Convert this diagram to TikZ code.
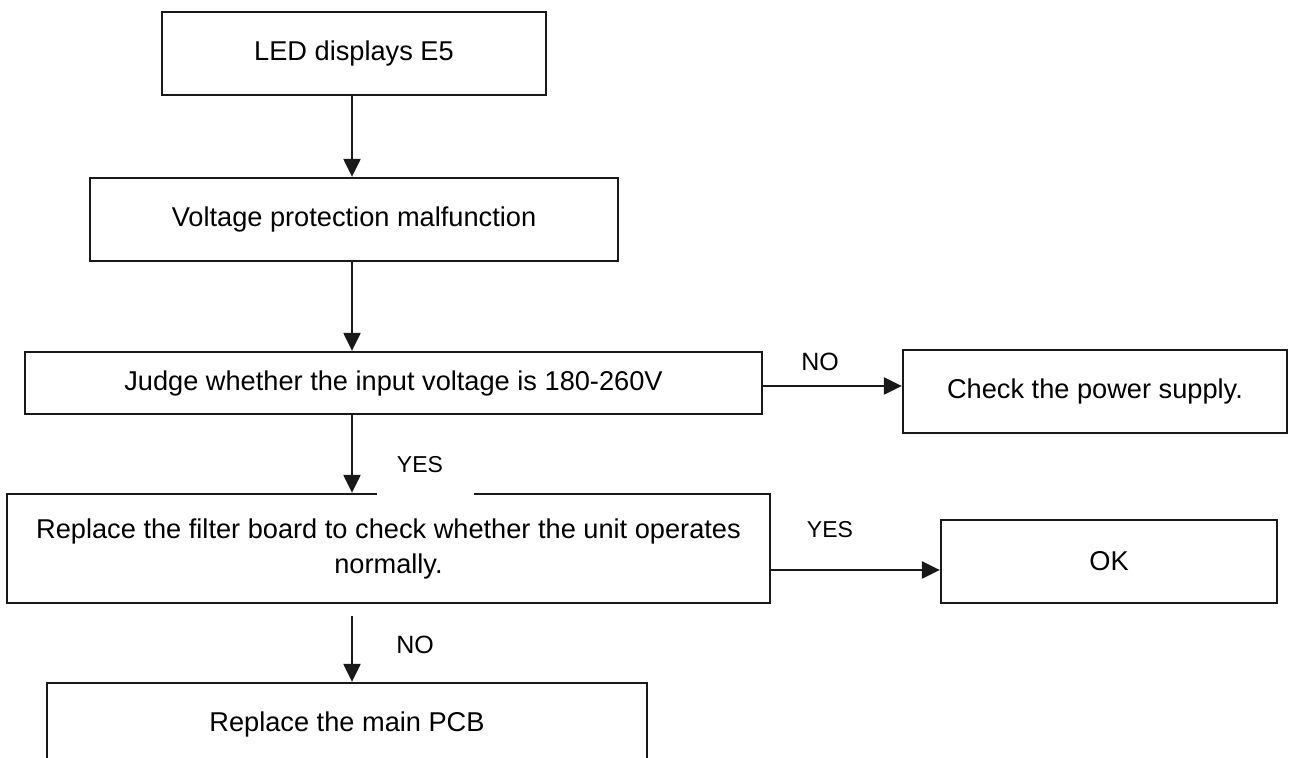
\documentclass[tikz,border=0pt]{standalone}
\usepackage{fontspec}
\setmainfont{Liberation Sans}
\usepackage{tikz}
\usetikzlibrary{arrows.meta,positioning,calc}
\tikzset{
	faultbox/.style={rectangle, draw=black!90, line width=1.15pt, fill=white,
		align=center, font=\fontsize{13.6}{17.5}\selectfont, inner sep=2pt},
	faultarr/.style={-{Triangle[length=9pt,width=8.5pt]}, line width=1.15pt, draw=black!90},
	faultlbl/.style={font=\fontsize{12.5}{14}\selectfont, inner sep=1pt}
}
\begin{document}
\begin{tikzpicture}[x=0.5pt,y=-0.5pt]
	\useasboundingbox (0,0) rectangle (1291,758);
	\clip (0,0) rectangle (1291,758);
	\node[faultbox, minimum width=192pt, minimum height=41.5pt] (e5) at (354,53.5) {LED displays E5};
	\node[faultbox, minimum width=264pt, minimum height=41.5pt] (volt) at (354,219.5) {Voltage protection malfunction};
	\node[faultbox, minimum width=368.5pt, minimum height=31pt] (judge) at (393.5,383) {Judge whether the input voltage is 180-260V};
	\node[faultbox, minimum width=192pt, minimum height=41.5pt] (power) at (1095,391.5) {Check the power supply.};
	\node[faultbox, minimum width=381.5pt, minimum height=54.5pt] (filter) at (388.5,548.5) {Replace the filter board to check whether the unit operates\\normally.};
	\node[faultbox, minimum width=168pt, minimum height=41.5pt] (ok) at (1109,561.5) {OK};
	\node[faultbox, minimum width=300pt, minimum height=41.5pt] (pcb) at (347,724.5) {Replace the main PCB};
	% white gap in the top edge under YES
	\fill[white] (377,490) rectangle (474,498);
	\node[faultlbl] (no1) at (820,362) {NO};
	\node[faultlbl, font=\fontsize{11.5}{14}\selectfont] (yes1) at (420,465) {YES};
	\node[faultlbl, font=\fontsize{11.5}{14}\selectfont] (yes2) at (830,530) {YES};
	\node[faultlbl] (no2) at (415,645) {NO};
	\coordinate (yesout) at ($(filter.east)+(0,21.5)$);
	\coordinate (noout) at ($(filter.south -| volt.south)+(-2,12)$);
	\draw[faultarr] ($(e5.south)+(-2,0)$) -- ($(volt.north)+(-2,0)$);
	\draw[faultarr] ($(volt.south)+(-2,0)$) -- ($(volt.south |- judge.north)+(-2,0)$);
	\draw[faultarr] ($(judge.south -| volt.south)+(-2,0)$) -- ($(volt.south |- filter.north)+(-2,0)$);
	\draw[faultarr] (noout) -- (noout |- pcb.north);
	\draw[faultarr] ($(judge.east)+(0,3)$) -- ($(judge.east -| power.west)+(0,3)$);
	\draw[faultarr] (yesout) -- (yesout -| ok.west);
\end{tikzpicture}
\end{document}
